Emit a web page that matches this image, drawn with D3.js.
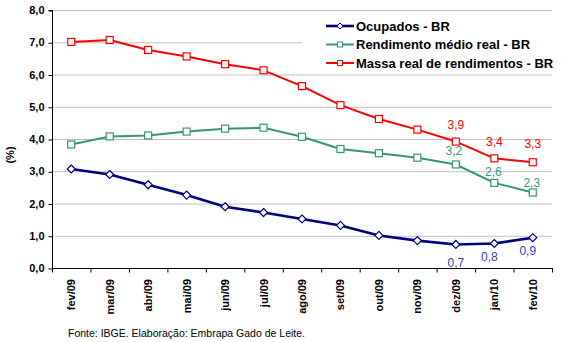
<!DOCTYPE html>
<html><head><meta charset="utf-8">
<script src="https://cdn.jsdelivr.net/npm/d3@7"></script>
<style>
body{margin:0;background:#fff;}
svg{display:block;font-family:"Liberation Sans",Arial,sans-serif;}
</style></head>
<body>
<svg id="c" width="561" height="342"></svg>
<script>
const categories = ["fev/09","mar/09","abr/09","mai/09","jun/09","jul/09","ago/09","set/09","out/09","nov/09","dez/09","jan/10","fev/10"];
const ocupados   = [3.07,2.90,2.58,2.26,1.90,1.72,1.52,1.32,1.01,0.85,0.73,0.76,0.94];
const rendimento = [3.83,4.08,4.11,4.23,4.32,4.35,4.07,3.69,3.56,3.42,3.21,2.64,2.34];
const massa      = [7.01,7.07,6.76,6.56,6.32,6.13,5.64,5.05,4.62,4.29,3.92,3.40,3.28];
const yTicks = [0,1,2,3,4,5,6,7,8];
const seriesNames = ["Ocupados - BR","Rendimento médio real - BR","Massa real de rendimentos - BR"];
const labelFrom = 10; // data labels shown for the last three months

const svg = d3.select("#c");
const L = 52, R = 552, T = 10, B = 268;
const x = d3.scaleBand().domain(categories).range([L, R]);
const y = d3.scaleLinear().domain([0, 8]).range([B, T]);
const cx = d => x(d) + x.bandwidth() / 2;
const fmt = v => v.toFixed(1).replace(".", ",");

// gridlines
svg.append("g").selectAll("line").data(yTicks.filter(t => t > 0)).join("line")
  .attr("x1", L).attr("x2", R).attr("y1", d => y(d) + 0.5).attr("y2", d => y(d) + 0.5)
  .attr("stroke", "#c0c0c0").attr("stroke-width", 1);

// y axis
const ya = svg.append("g").attr("transform", `translate(${L + 0.5},0)`)
  .call(d3.axisLeft(y).tickValues(yTicks).tickSize(4).tickPadding(4).tickFormat(fmt));
ya.select(".domain").attr("stroke", "#000").attr("d", `M-4,${T + 0.5}H0V${B + 0.5}`);
ya.selectAll(".tick line").attr("stroke", "#000").attr("transform", "translate(0,0.5)");
ya.selectAll(".tick text").attr("font-size", 11).attr("font-weight", "bold").attr("fill", "#000")
  .attr("font-family", "Liberation Sans, Arial, sans-serif");

// x axis
const xa = svg.append("g").attr("transform", `translate(0,${B + 0.5})`)
  .call(d3.axisBottom(x).tickSize(0).tickPadding(0));
xa.select(".domain").attr("stroke", "#000").attr("d", `M${L},0H${R + 1}`);
xa.selectAll(".tick text").remove();
// boundary ticks
svg.append("g").selectAll("line").data(d3.range(categories.length + 1)).join("line")
  .attr("x1", i => L + i * x.step() + 0.5).attr("x2", i => L + i * x.step() + 0.5)
  .attr("y1", B).attr("y2", B + 4.5).attr("stroke", "#000");
// rotated category labels
svg.append("g").selectAll("text").data(categories).join("text")
  .attr("transform", d => `translate(${cx(d) + 4},${B + 11}) rotate(-90)`)
  .attr("text-anchor", "end").attr("font-size", 11).attr("font-weight", "bold").attr("fill", "#000")
  .text(d => d);

// y title
svg.append("text").attr("transform", "translate(14,155) rotate(-90)")
  .attr("text-anchor", "middle").attr("font-size", 11).attr("font-weight", "bold").text("(%)");

const series = [
  {name: seriesNames[0], values: ocupados, color: "#000080", width: 2.6, marker: "diamond", lab: "#3344bb", dy: [18, 13, 13], dx: [0, -5, -5]},
  {name: seriesNames[1], values: rendimento, color: "#339966", width: 2, marker: "square", lab: "#339980", dy: [-14, -11, -10], dx: [-2, -1, -1]},
  {name: seriesNames[2], values: massa, color: "#ff0000", width: 2, marker: "square", lab: "#ff0000", dy: [-17, -17, -18], dx: [0, 0, 0]}
];

const line = d3.line().x((v, i) => cx(categories[i])).y(v => y(v));

function drawMarker(g, type, color, px, py) {
  if (type === "square") {
    g.append("rect").attr("x", px - 3.5).attr("y", py - 3.5).attr("width", 7).attr("height", 7)
      .attr("fill", "#fff").attr("stroke", color).attr("stroke-width", 1.2);
  } else {
    g.append("path").attr("d", `M${px},${py - 4}L${px + 4},${py}L${px},${py + 4}L${px - 4},${py}Z`)
      .attr("fill", "#fff").attr("stroke", color).attr("stroke-width", 1.2);
  }
}

// draw order: red, green, blue on top
[series[2], series[1], series[0]].forEach(s => {
  const g = svg.append("g");
  g.append("path").datum(s.values).attr("d", line).attr("fill", "none")
    .attr("stroke", s.color).attr("stroke-width", s.width).attr("stroke-linejoin", "round");
  s.values.forEach((v, i) => drawMarker(g, s.marker, s.color, cx(categories[i]), y(v)));
});

// data labels
series.forEach(s => {
  s.values.forEach((v, i) => {
    if (i < labelFrom) return;
    const k = i - labelFrom;
    svg.append("text").attr("x", cx(categories[i]) + s.dx[k]).attr("y", y(v) + s.dy[k])
      .attr("dy", "0.35em").attr("text-anchor", "middle").attr("font-size", 12)
      .attr("fill", s.lab).text(fmt(v));
  });
});

// legend
const lg = svg.append("g");
lg.append("rect").attr("x", 302).attr("y", 14).attr("width", 259).attr("height", 58).attr("fill", "#fff");
series.forEach((s, i) => {
  const ly = 26 + i * 18.5;
  lg.append("line").attr("x1", 326).attr("x2", 354).attr("y1", ly).attr("y2", ly)
    .attr("stroke", s.color).attr("stroke-width", s.width);
  if (s.marker === "square") {
    lg.append("rect").attr("x", 337.5).attr("y", ly - 2.5).attr("width", 5).attr("height", 5)
      .attr("fill", "#fff").attr("stroke", s.color).attr("stroke-width", 1);
  } else {
    lg.append("path").attr("d", `M340,${ly - 3}L343,${ly}L340,${ly + 3}L337,${ly}Z`)
      .attr("fill", "#fff").attr("stroke", s.color).attr("stroke-width", 1);
  }
  lg.append("text").attr("x", 356).attr("y", ly).attr("dy", "0.35em")
    .attr("font-size", 13).attr("font-weight", "bold").attr("fill", "#000").text(s.name);
});

// source
svg.append("text").attr("x", 68).attr("y", 333).attr("dy", "0.35em")
  .attr("font-size", 10.5).attr("fill", "#000").text("Fonte: IBGE. Elaboração: Embrapa Gado de Leite.");
</script>
</body></html>
